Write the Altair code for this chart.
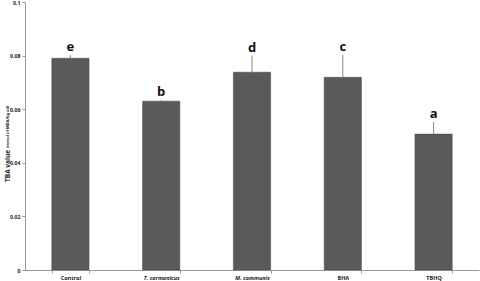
import altair as alt
import pandas as pd

categories = ["Control", "T. carmanicus", "M. communis", "BHA", "TBHQ"]
values = [0.079, 0.063, 0.0738, 0.0719, 0.0507]
upper = [0.0802, 0.0634, 0.0800, 0.0802, 0.0553]
letters = ["e", "b", "d", "c", "a"]

df = pd.DataFrame({"cat": categories, "val": values, "up": upper, "lab": letters})

xscale = alt.Scale(paddingInner=0.59, paddingOuter=0.295)
x = alt.X("cat:N", sort=categories, scale=xscale, title=None,
          axis=alt.Axis(labelAngle=0, tickBand="extent", tickSize=3, labelPadding=2,
                        labelFontSize=5.5, labelFontWeight="bold", labelColor="#222",
                        labelFont="Open Sans", domainColor="#999", tickColor="#999",
                        labelFontStyle={"condition": {"test": "datum.value == 'T. carmanicus' || datum.value == 'M. communis'", "value": "italic"}, "value": "normal"}))
y = alt.Y("val:Q", scale=alt.Scale(domain=[0, 0.1]), title=None,
          axis=alt.Axis(values=[0, 0.02, 0.04, 0.06, 0.08, 0.1], format=".2~f", grid=False,
                        tickSize=3, labelPadding=2, labelFontSize=5.2, labelFontWeight="bold",
                        labelColor="#222", labelFont="Open Sans", domainColor="#999", tickColor="#999"))

base = alt.Chart(df)
bars = base.mark_bar(color="#5a5a5a", stroke="#444", strokeWidth=0.5).encode(x=x, y=y)
err = base.mark_rule(color="#888", strokeWidth=1).encode(x=alt.X("cat:N", sort=categories, scale=xscale), y="val:Q", y2="up:Q")
txt = base.mark_text(baseline="bottom", dy=-1, fontSize=13, fontWeight="bold", font="Open Sans", color="#111").encode(
    x=alt.X("cat:N", sort=categories, scale=xscale), y="up:Q", text="lab:N")

t1 = alt.Chart(pd.DataFrame({"t": ["TBA value"]})).mark_text(angle=270, align="left", fontSize=6.5, fontWeight="bold", font="Open Sans", color="#222").encode(
    x=alt.value(-17), y=alt.value(180), text="t:N")
t2 = alt.Chart(pd.DataFrame({"t": ["(mmol of MDA/kg oil)"]})).mark_text(angle=270, align="left", fontSize=4, fontWeight="bold", font="Open Sans", color="#222").encode(
    x=alt.value(-17), y=alt.value(146), text="t:N")

chart = alt.layer(bars, err, txt, t1, t2).properties(
    width=454, height=268, autosize="none",
    padding={"left": 25, "top": 2, "right": 1, "bottom": 11}
).configure_view(stroke=None)

chart.save("out.html", embed_options={"renderer": "svg", "actions": False})
